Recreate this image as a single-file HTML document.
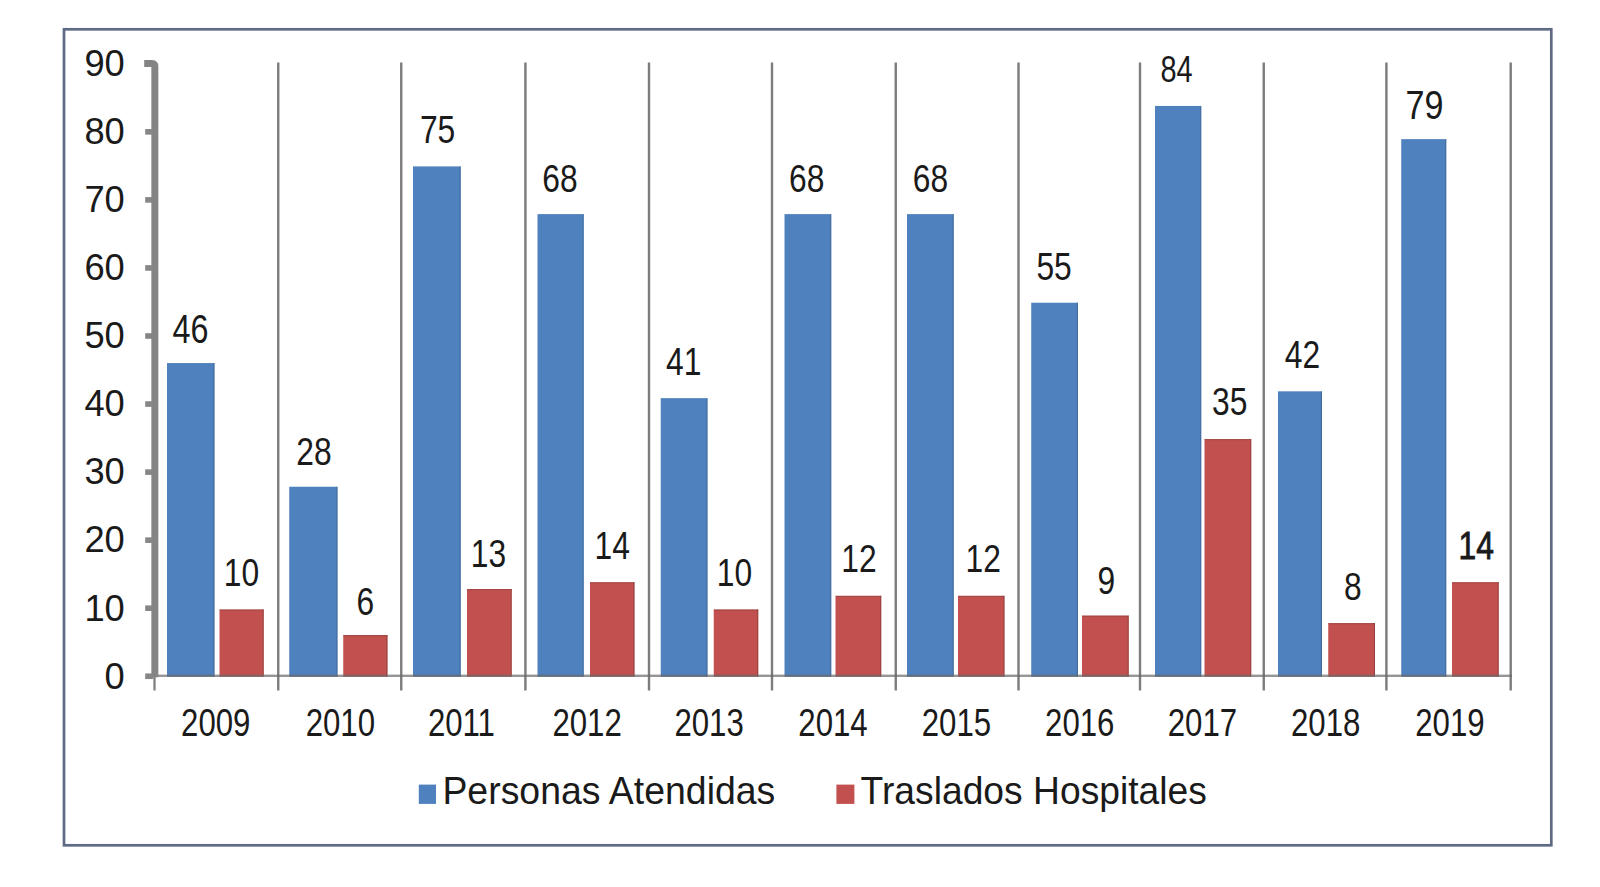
<!DOCTYPE html>
<html lang="es"><head><meta charset="utf-8"><title>Personas Atendidas / Traslados Hospitales</title>
<style>
html,body{margin:0;padding:0;background:#fff;}
body{width:1600px;height:887px;overflow:hidden;}
svg{display:block;}
text{font-family:"Liberation Sans",sans-serif;fill:#1a1a1a;}
</style></head><body>
<svg width="1600" height="887" viewBox="0 0 1600 887">
<rect x="0" y="0" width="1600" height="887" fill="#ffffff"/>
<rect x="64" y="29.3" width="1487.3" height="816" fill="#ffffff" stroke="#5f6b84" stroke-width="2.7"/>

<rect x="277.05" y="62.5" width="2.4" height="628" fill="#7a7d7a"/>
<rect x="400.05" y="62.5" width="2.4" height="628" fill="#7a7d7a"/>
<rect x="524.20" y="62.5" width="2.4" height="628" fill="#7a7d7a"/>
<rect x="647.80" y="62.5" width="2.4" height="628" fill="#7a7d7a"/>
<rect x="770.80" y="62.5" width="2.4" height="628" fill="#7a7d7a"/>
<rect x="894.55" y="62.5" width="2.4" height="628" fill="#7a7d7a"/>
<rect x="1017.30" y="62.5" width="2.4" height="628" fill="#7a7d7a"/>
<rect x="1138.80" y="62.5" width="2.4" height="628" fill="#7a7d7a"/>
<rect x="1262.55" y="62.5" width="2.4" height="628" fill="#7a7d7a"/>
<rect x="1385.20" y="62.5" width="2.4" height="628" fill="#7a7d7a"/>
<rect x="1509.50" y="62.5" width="2.4" height="628" fill="#7a7d7a"/>
<rect x="153.40" y="676" width="2.2" height="14.5" fill="#7a7d7a"/>
<rect x="167.00" y="363.04" width="47.50" height="313.76" fill="#4e81bd"/>
<rect x="213.30" y="363.04" width="1.2" height="313.76" fill="#3d5f8f" opacity="0.55"/>
<rect x="289.25" y="486.75" width="48.25" height="190.05" fill="#4e81bd"/>
<rect x="336.30" y="486.75" width="1.2" height="190.05" fill="#3d5f8f" opacity="0.55"/>
<rect x="413.00" y="166.40" width="47.75" height="510.40" fill="#4e81bd"/>
<rect x="459.55" y="166.40" width="1.2" height="510.40" fill="#3d5f8f" opacity="0.55"/>
<rect x="537.50" y="214.11" width="46.25" height="462.69" fill="#4e81bd"/>
<rect x="582.55" y="214.11" width="1.2" height="462.69" fill="#3d5f8f" opacity="0.55"/>
<rect x="660.75" y="398.14" width="46.75" height="278.66" fill="#4e81bd"/>
<rect x="706.30" y="398.14" width="1.2" height="278.66" fill="#3d5f8f" opacity="0.55"/>
<rect x="784.50" y="214.11" width="46.75" height="462.69" fill="#4e81bd"/>
<rect x="830.05" y="214.11" width="1.2" height="462.69" fill="#3d5f8f" opacity="0.55"/>
<rect x="907.00" y="214.11" width="46.75" height="462.69" fill="#4e81bd"/>
<rect x="952.55" y="214.11" width="1.2" height="462.69" fill="#3d5f8f" opacity="0.55"/>
<rect x="1031.25" y="302.72" width="46.75" height="374.08" fill="#4e81bd"/>
<rect x="1076.80" y="302.72" width="1.2" height="374.08" fill="#3d5f8f" opacity="0.55"/>
<rect x="1155.00" y="105.94" width="46.25" height="570.86" fill="#4e81bd"/>
<rect x="1200.05" y="105.94" width="1.2" height="570.86" fill="#3d5f8f" opacity="0.55"/>
<rect x="1278.00" y="391.33" width="44.00" height="285.47" fill="#4e81bd"/>
<rect x="1320.80" y="391.33" width="1.2" height="285.47" fill="#3d5f8f" opacity="0.55"/>
<rect x="1401.25" y="139.14" width="45.00" height="537.66" fill="#4e81bd"/>
<rect x="1445.05" y="139.14" width="1.2" height="537.66" fill="#3d5f8f" opacity="0.55"/>
<rect x="219.50" y="609.44" width="44.25" height="67.36" fill="#c2504e"/>
<rect x="262.55" y="609.44" width="1.2" height="67.36" fill="#7e3b3b" opacity="0.55"/>
<rect x="219.50" y="609.44" width="44.25" height="1.2" fill="#7e3b3b" opacity="0.4"/>
<rect x="343.25" y="635.00" width="44.25" height="41.80" fill="#c2504e"/>
<rect x="386.30" y="635.00" width="1.2" height="41.80" fill="#7e3b3b" opacity="0.55"/>
<rect x="343.25" y="635.00" width="44.25" height="1.2" fill="#7e3b3b" opacity="0.4"/>
<rect x="467.00" y="588.99" width="44.75" height="87.81" fill="#c2504e"/>
<rect x="510.55" y="588.99" width="1.2" height="87.81" fill="#7e3b3b" opacity="0.55"/>
<rect x="467.00" y="588.99" width="44.75" height="1.2" fill="#7e3b3b" opacity="0.4"/>
<rect x="590.00" y="582.18" width="44.50" height="94.62" fill="#c2504e"/>
<rect x="633.30" y="582.18" width="1.2" height="94.62" fill="#7e3b3b" opacity="0.55"/>
<rect x="590.00" y="582.18" width="44.50" height="1.2" fill="#7e3b3b" opacity="0.4"/>
<rect x="713.75" y="609.44" width="44.50" height="67.36" fill="#c2504e"/>
<rect x="757.05" y="609.44" width="1.2" height="67.36" fill="#7e3b3b" opacity="0.55"/>
<rect x="713.75" y="609.44" width="44.50" height="1.2" fill="#7e3b3b" opacity="0.4"/>
<rect x="835.50" y="595.81" width="45.75" height="80.99" fill="#c2504e"/>
<rect x="880.05" y="595.81" width="1.2" height="80.99" fill="#7e3b3b" opacity="0.55"/>
<rect x="835.50" y="595.81" width="45.75" height="1.2" fill="#7e3b3b" opacity="0.4"/>
<rect x="958.00" y="595.81" width="46.50" height="80.99" fill="#c2504e"/>
<rect x="1003.30" y="595.81" width="1.2" height="80.99" fill="#7e3b3b" opacity="0.55"/>
<rect x="958.00" y="595.81" width="46.50" height="1.2" fill="#7e3b3b" opacity="0.4"/>
<rect x="1082.00" y="615.57" width="46.75" height="61.23" fill="#c2504e"/>
<rect x="1127.55" y="615.57" width="1.2" height="61.23" fill="#7e3b3b" opacity="0.55"/>
<rect x="1082.00" y="615.57" width="46.75" height="1.2" fill="#7e3b3b" opacity="0.4"/>
<rect x="1204.50" y="439.04" width="46.75" height="237.76" fill="#c2504e"/>
<rect x="1250.05" y="439.04" width="1.2" height="237.76" fill="#7e3b3b" opacity="0.55"/>
<rect x="1204.50" y="439.04" width="46.75" height="1.2" fill="#7e3b3b" opacity="0.4"/>
<rect x="1328.25" y="623.07" width="46.75" height="53.73" fill="#c2504e"/>
<rect x="1373.80" y="623.07" width="1.2" height="53.73" fill="#7e3b3b" opacity="0.55"/>
<rect x="1328.25" y="623.07" width="46.75" height="1.2" fill="#7e3b3b" opacity="0.4"/>
<rect x="1452.00" y="582.18" width="46.75" height="94.62" fill="#c2504e"/>
<rect x="1497.55" y="582.18" width="1.2" height="94.62" fill="#7e3b3b" opacity="0.55"/>
<rect x="1452.00" y="582.18" width="46.75" height="1.2" fill="#7e3b3b" opacity="0.4"/>
<rect x="151.5" y="674.6" width="1360.3" height="2.4" fill="#6a6a6a" opacity="0.7"/>
<path d="M144.2 63.6 H152 Q154.85 63.6 154.85 66.6 V677.2" fill="none" stroke="#848484" stroke-width="7" stroke-linejoin="round"/>
<rect x="145.2" y="129.05" width="8" height="5.6" fill="#868686"/>
<rect x="145.2" y="197.10" width="8" height="5.6" fill="#868686"/>
<rect x="145.2" y="265.15" width="8" height="5.6" fill="#868686"/>
<rect x="145.2" y="333.20" width="8" height="5.6" fill="#868686"/>
<rect x="145.2" y="401.25" width="8" height="5.6" fill="#868686"/>
<rect x="145.2" y="469.30" width="8" height="5.6" fill="#868686"/>
<rect x="145.2" y="537.35" width="8" height="5.6" fill="#868686"/>
<rect x="145.2" y="605.40" width="8" height="5.6" fill="#868686"/>
<rect x="145.2" y="673.45" width="8" height="5.6" fill="#868686"/>
<text x="124.8" y="688.55" font-size="36.3" text-anchor="end">0</text>
<text x="124.8" y="620.50" font-size="36.3" text-anchor="end">10</text>
<text x="124.8" y="552.45" font-size="36.3" text-anchor="end">20</text>
<text x="124.8" y="484.40" font-size="36.3" text-anchor="end">30</text>
<text x="124.8" y="416.35" font-size="36.3" text-anchor="end">40</text>
<text x="124.8" y="348.30" font-size="36.3" text-anchor="end">50</text>
<text x="124.8" y="280.25" font-size="36.3" text-anchor="end">60</text>
<text x="124.8" y="212.20" font-size="36.3" text-anchor="end">70</text>
<text x="124.8" y="144.15" font-size="36.3" text-anchor="end">80</text>
<text x="124.8" y="76.10" font-size="36.3" text-anchor="end">90</text>
<text transform="translate(190.40,342.50) scale(0.803,1)" font-size="40.3" text-anchor="middle">46</text>
<text transform="translate(313.98,464.50) scale(0.815,1)" font-size="39" text-anchor="middle">28</text>
<text transform="translate(437.57,143.40) scale(0.815,1)" font-size="39" text-anchor="middle">75</text>
<text transform="translate(559.88,191.50) scale(0.815,1)" font-size="39" text-anchor="middle">68</text>
<text transform="translate(683.73,375.20) scale(0.815,1)" font-size="39" text-anchor="middle">41</text>
<text transform="translate(806.77,192.00) scale(0.815,1)" font-size="39" text-anchor="middle">68</text>
<text transform="translate(930.38,192.00) scale(0.815,1)" font-size="39" text-anchor="middle">68</text>
<text transform="translate(1054.08,279.60) scale(0.815,1)" font-size="39" text-anchor="middle">55</text>
<text transform="translate(1176.58,82.10) scale(0.765,1)" font-size="37.8" text-anchor="middle">84</text>
<text transform="translate(1302.40,367.90) scale(0.815,1)" font-size="39" text-anchor="middle">42</text>
<text transform="translate(1424.45,118.70) scale(0.847,1)" font-size="40.3" text-anchor="middle">79</text>
<text transform="translate(241.38,586.25) scale(0.815,1)" font-size="39" text-anchor="middle">10</text>
<text transform="translate(365.23,614.50) scale(0.815,1)" font-size="39" text-anchor="middle">6</text>
<text transform="translate(488.48,567.00) scale(0.815,1)" font-size="39" text-anchor="middle">13</text>
<text transform="translate(612.25,559.00) scale(0.815,1)" font-size="39" text-anchor="middle">14</text>
<text transform="translate(734.50,586.25) scale(0.815,1)" font-size="39" text-anchor="middle">10</text>
<text transform="translate(858.98,572.00) scale(0.815,1)" font-size="39" text-anchor="middle">12</text>
<text transform="translate(983.15,572.00) scale(0.815,1)" font-size="39" text-anchor="middle">12</text>
<text transform="translate(1106.28,594.30) scale(0.815,1)" font-size="39" text-anchor="middle">9</text>
<text transform="translate(1229.72,415.10) scale(0.815,1)" font-size="39" text-anchor="middle">35</text>
<text transform="translate(1352.88,600.10) scale(0.815,1)" font-size="39" text-anchor="middle">8</text>
<text transform="translate(1476.17,559.40) scale(0.815,1)" font-size="39" text-anchor="middle" stroke="#1a1a1a" stroke-width="0.9">14</text>
<text transform="translate(215.78,736.00) scale(0.8,1)" font-size="39" text-anchor="middle">2009</text>
<text transform="translate(340.35,736.00) scale(0.8,1)" font-size="39" text-anchor="middle">2010</text>
<text transform="translate(461.43,736.00) scale(0.8,1)" font-size="39" text-anchor="middle">2011</text>
<text transform="translate(587.10,736.00) scale(0.8,1)" font-size="39" text-anchor="middle">2012</text>
<text transform="translate(709.10,736.00) scale(0.8,1)" font-size="39" text-anchor="middle">2013</text>
<text transform="translate(832.98,736.00) scale(0.8,1)" font-size="39" text-anchor="middle">2014</text>
<text transform="translate(956.38,736.00) scale(0.8,1)" font-size="39" text-anchor="middle">2015</text>
<text transform="translate(1079.75,736.00) scale(0.8,1)" font-size="39" text-anchor="middle">2016</text>
<text transform="translate(1202.38,736.00) scale(0.8,1)" font-size="39" text-anchor="middle">2017</text>
<text transform="translate(1325.67,736.00) scale(0.8,1)" font-size="39" text-anchor="middle">2018</text>
<text transform="translate(1449.95,736.00) scale(0.8,1)" font-size="39" text-anchor="middle">2019</text>
<rect x="418.8" y="784.6" width="17.2" height="19.3" fill="#4e81bd"/>
<text transform="translate(442.4,803.8) scale(0.975,1)" font-size="38.4">Personas Atendidas</text>
<rect x="836.4" y="784.6" width="18" height="19.3" fill="#c2504e"/>
<text transform="translate(860.6,803.8) scale(0.970,1)" font-size="38.4">Traslados Hospitales</text>
</svg></body></html>
